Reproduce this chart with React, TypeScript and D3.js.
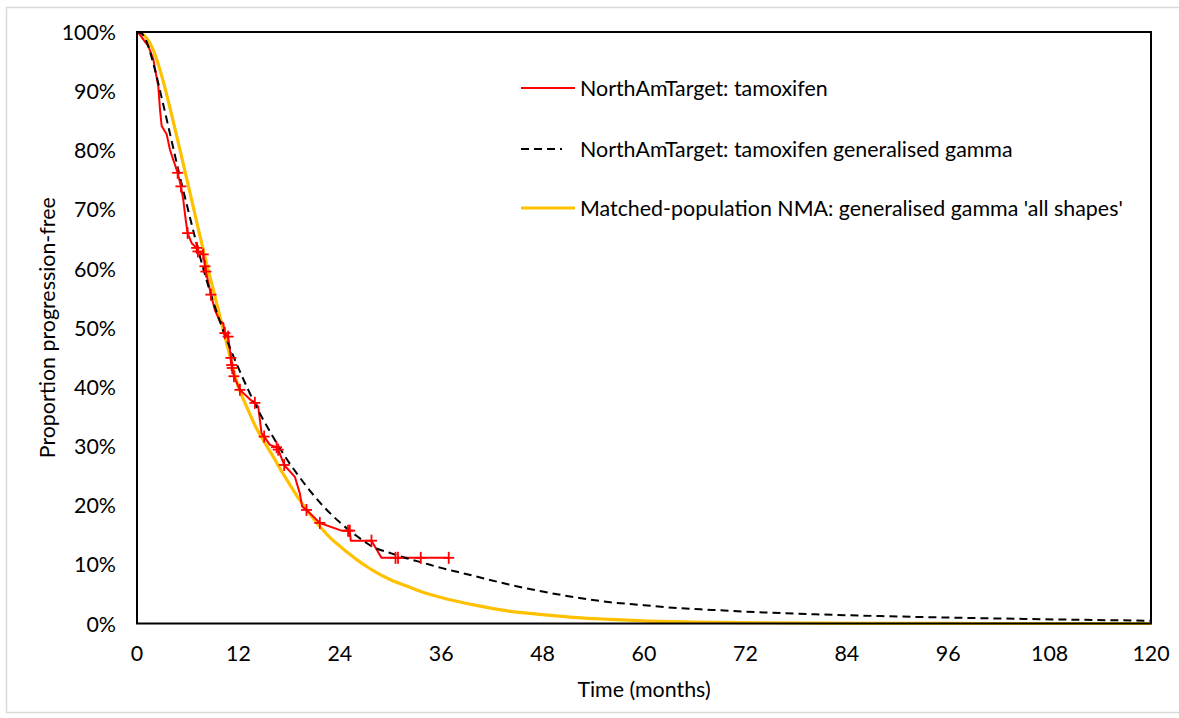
import React from "react";
import * as d3 from "d3";

// Kaplan-Meier: NorthAmTarget tamoxifen (time in months, proportion progression-free)
const kmTime = [0, 0.15, 1.34, 1.93, 2.52, 2.72, 2.92, 3.51, 3.9, 4.29, 4.81, 5.2, 5.47, 5.76, 5.99, 6.47, 7.06, 7.21, 7.84, 8.04, 8.16, 8.75, 9.22, 9.81, 10.2, 10.4, 10.79, 11.11, 11.2, 11.27, 11.47, 12.18, 13.36, 13.95, 14.34, 14.74, 15.05, 15.72, 16.52, 16.71, 17.42, 18.68, 19.27, 19.54, 20.06, 21.64, 24.2, 24.98, 25.18, 25.3, 27.75, 28.93, 30.59, 30.89, 33.58, 36.89];
const kmSurv = [1.0, 0.999, 0.976, 0.954, 0.908, 0.869, 0.841, 0.827, 0.801, 0.784, 0.762, 0.739, 0.717, 0.683, 0.66, 0.643, 0.635, 0.629, 0.624, 0.604, 0.595, 0.556, 0.53, 0.511, 0.508, 0.491, 0.485, 0.449, 0.437, 0.432, 0.418, 0.395, 0.379, 0.373, 0.367, 0.322, 0.316, 0.302, 0.298, 0.294, 0.268, 0.248, 0.22, 0.198, 0.192, 0.17, 0.157, 0.157, 0.157, 0.14, 0.14, 0.111, 0.111, 0.111, 0.111, 0.111];

// Censoring marks
const censorTime = [4.81, 5.2, 5.99, 7.06, 7.21, 7.84, 8.04, 8.16, 8.75, 10.4, 10.79, 11.11, 11.2, 11.27, 11.47, 12.18, 13.95, 15.05, 16.52, 16.71, 17.42, 20.06, 21.64, 24.98, 25.18, 27.75, 30.59, 30.89, 33.58, 36.89];
const censorSurv = [0.762, 0.739, 0.66, 0.635, 0.629, 0.624, 0.604, 0.595, 0.556, 0.491, 0.485, 0.449, 0.437, 0.432, 0.418, 0.395, 0.373, 0.316, 0.298, 0.294, 0.268, 0.192, 0.17, 0.157, 0.157, 0.14, 0.111, 0.111, 0.111, 0.111];

// Generalised gamma fit (NorthAmTarget: tamoxifen)
const ggTime = [0, 0.5, 1, 2, 3, 4, 5, 6, 7, 8, 9, 10, 11, 12, 13, 14, 15, 16, 17, 18, 19, 20, 22, 24, 26, 28, 30, 32, 34, 36, 38, 40, 44, 48, 52, 56, 60, 64, 68, 72, 80, 88, 96, 104, 112, 120];
const ggSurv = [1.0, 0.998, 0.988, 0.943, 0.884, 0.822, 0.76, 0.702, 0.645, 0.592, 0.545, 0.503, 0.466, 0.432, 0.4, 0.37, 0.343, 0.318, 0.294, 0.272, 0.252, 0.233, 0.199, 0.171, 0.148, 0.129, 0.119, 0.11, 0.102, 0.094, 0.087, 0.08, 0.066, 0.054, 0.044, 0.036, 0.031, 0.026, 0.023, 0.02, 0.0157, 0.0125, 0.01, 0.008, 0.0062, 0.0047];

// Matched-population NMA: generalised gamma 'all shapes'
const nmaTime = [0, 0.5, 1, 2, 3, 4, 5, 6, 7, 8, 9, 10, 11, 12, 13, 14, 15, 16, 17, 18, 19, 20, 21, 22, 23, 24, 25, 26, 27, 28, 30, 32, 34, 36, 40, 44, 48, 52, 56, 60, 66, 72, 80, 90, 100, 120];
const nmaSurv = [1.0, 0.998, 0.992, 0.967, 0.922, 0.866, 0.806, 0.745, 0.683, 0.622, 0.566, 0.508, 0.452, 0.4, 0.366, 0.334, 0.308, 0.285, 0.26, 0.237, 0.214, 0.194, 0.175, 0.158, 0.143, 0.131, 0.119, 0.108, 0.098, 0.089, 0.074, 0.063, 0.052, 0.044, 0.031, 0.021, 0.015, 0.01, 0.007, 0.0045, 0.0025, 0.0015, 0.0007, 0.0002, 0, 0];

const xTicks = [0, 12, 24, 36, 48, 60, 72, 84, 96, 108, 120];
const yTicks = [0, 0.1, 0.2, 0.3, 0.4, 0.5, 0.6, 0.7, 0.8, 0.9, 1.0];

const legendLabels = [
  "NorthAmTarget: tamoxifen",
  "NorthAmTarget: tamoxifen generalised gamma",
  "Matched-population NMA: generalised gamma 'all shapes'",
];

const FONT = "Lato, 'Open Sans', sans-serif";
const FS = 21.4;

export default function App() {
  const W = 1179, H = 718;
  const left = 137, right = 1151, top = 32, bottom = 623.5;
  const x = d3.scaleLinear().domain([0, 120]).range([left, right]);
  const y = d3.scaleLinear().domain([0, 1]).range([bottom, top]);

  const zip = (t: number[], s: number[]) => t.map((v, i) => [v, s[i]] as [number, number]);

  const smooth = d3.line<[number, number]>().x(d => x(d[0])).y(d => y(d[1])).curve(d3.curveMonotoneX);
  const linear = d3.line<[number, number]>().x(d => x(d[0])).y(d => y(d[1]));

  const kmPath = linear(zip(kmTime, kmSurv)) || "";
  const ggPath = smooth(zip(ggTime, ggSurv)) || "";
  const nmaPath = smooth(zip(nmaTime, nmaSurv)) || "";
  const pct = d3.format(".0%");

  const legY = [88, 149, 208];
  const legColors = ["#FF0000", "#000000", "#FFC000"];
  const legDash = [undefined, "8,5", undefined];
  const legWidth = [2, 2, 3];

  return (
    <svg width={W} height={H} style={{ position: "absolute", left: 0, top: 0, background: "#fff" }}>
      <rect x={0} y={0} width={W} height={H} fill="#fff" />
      <rect x={6.5} y={7.5} width={1190} height={705} fill="#fff" stroke="#D9D9D9" strokeWidth={1.5} />

      {/* curves */}
      <path d={nmaPath} fill="none" stroke="#FFC000" strokeWidth={3.2} strokeLinejoin="round" />
      <path d={kmPath} fill="none" stroke="#FF0000" strokeWidth={2} strokeLinejoin="round" />
      <path d={ggPath} fill="none" stroke="#000000" strokeWidth={2} strokeDasharray="8,5" />
      {censorTime.map((t, i) => {
        const cx = x(t), cy = y(censorSurv[i]);
        return (
          <g key={i} stroke="#FF0000" strokeWidth={1.8}>
            <line x1={cx - 5.5} x2={cx + 5.5} y1={cy} y2={cy} />
            <line x1={cx} x2={cx} y1={cy - 6} y2={cy + 6} />
          </g>
        );
      })}

      {/* plot frame */}
      <rect x={left} y={top} width={right - left} height={bottom - top} fill="none" stroke="#000" strokeWidth={2} />

      {/* y tick labels */}
      {yTicks.map(v => (
        <text key={v} x={116} y={y(v)} textAnchor="end" dominantBaseline="central" fontFamily={FONT} fontSize={FS} fill="#000">
          {pct(v)}
        </text>
      ))}
      {/* x tick labels */}
      {xTicks.map(v => (
        <text key={v} x={x(v)} y={653} textAnchor="middle" dominantBaseline="central" fontFamily={FONT} fontSize={FS} fill="#000">
          {v}
        </text>
      ))}

      <text x={(left + right) / 2} y={689} textAnchor="middle" dominantBaseline="central" fontFamily={FONT} fontSize={FS} fill="#000">
        Time (months)
      </text>
      <text transform={`translate(47, ${(top + bottom) / 2}) rotate(-90)`} textAnchor="middle" dominantBaseline="central" fontFamily={FONT} fontSize={FS} fill="#000">
        Proportion progression-free
      </text>

      {/* legend */}
      {legendLabels.map((lab, i) => (
        <g key={lab}>
          <line x1={521} x2={i === 1 ? 562 : 575} y1={legY[i]} y2={legY[i]} stroke={legColors[i]} strokeWidth={legWidth[i]} strokeDasharray={legDash[i]} />
          <text x={580} y={legY[i]} dominantBaseline="central" fontFamily={FONT} fontSize={FS} fill="#000">
            {lab}
          </text>
        </g>
      ))}
    </svg>
  );
}
